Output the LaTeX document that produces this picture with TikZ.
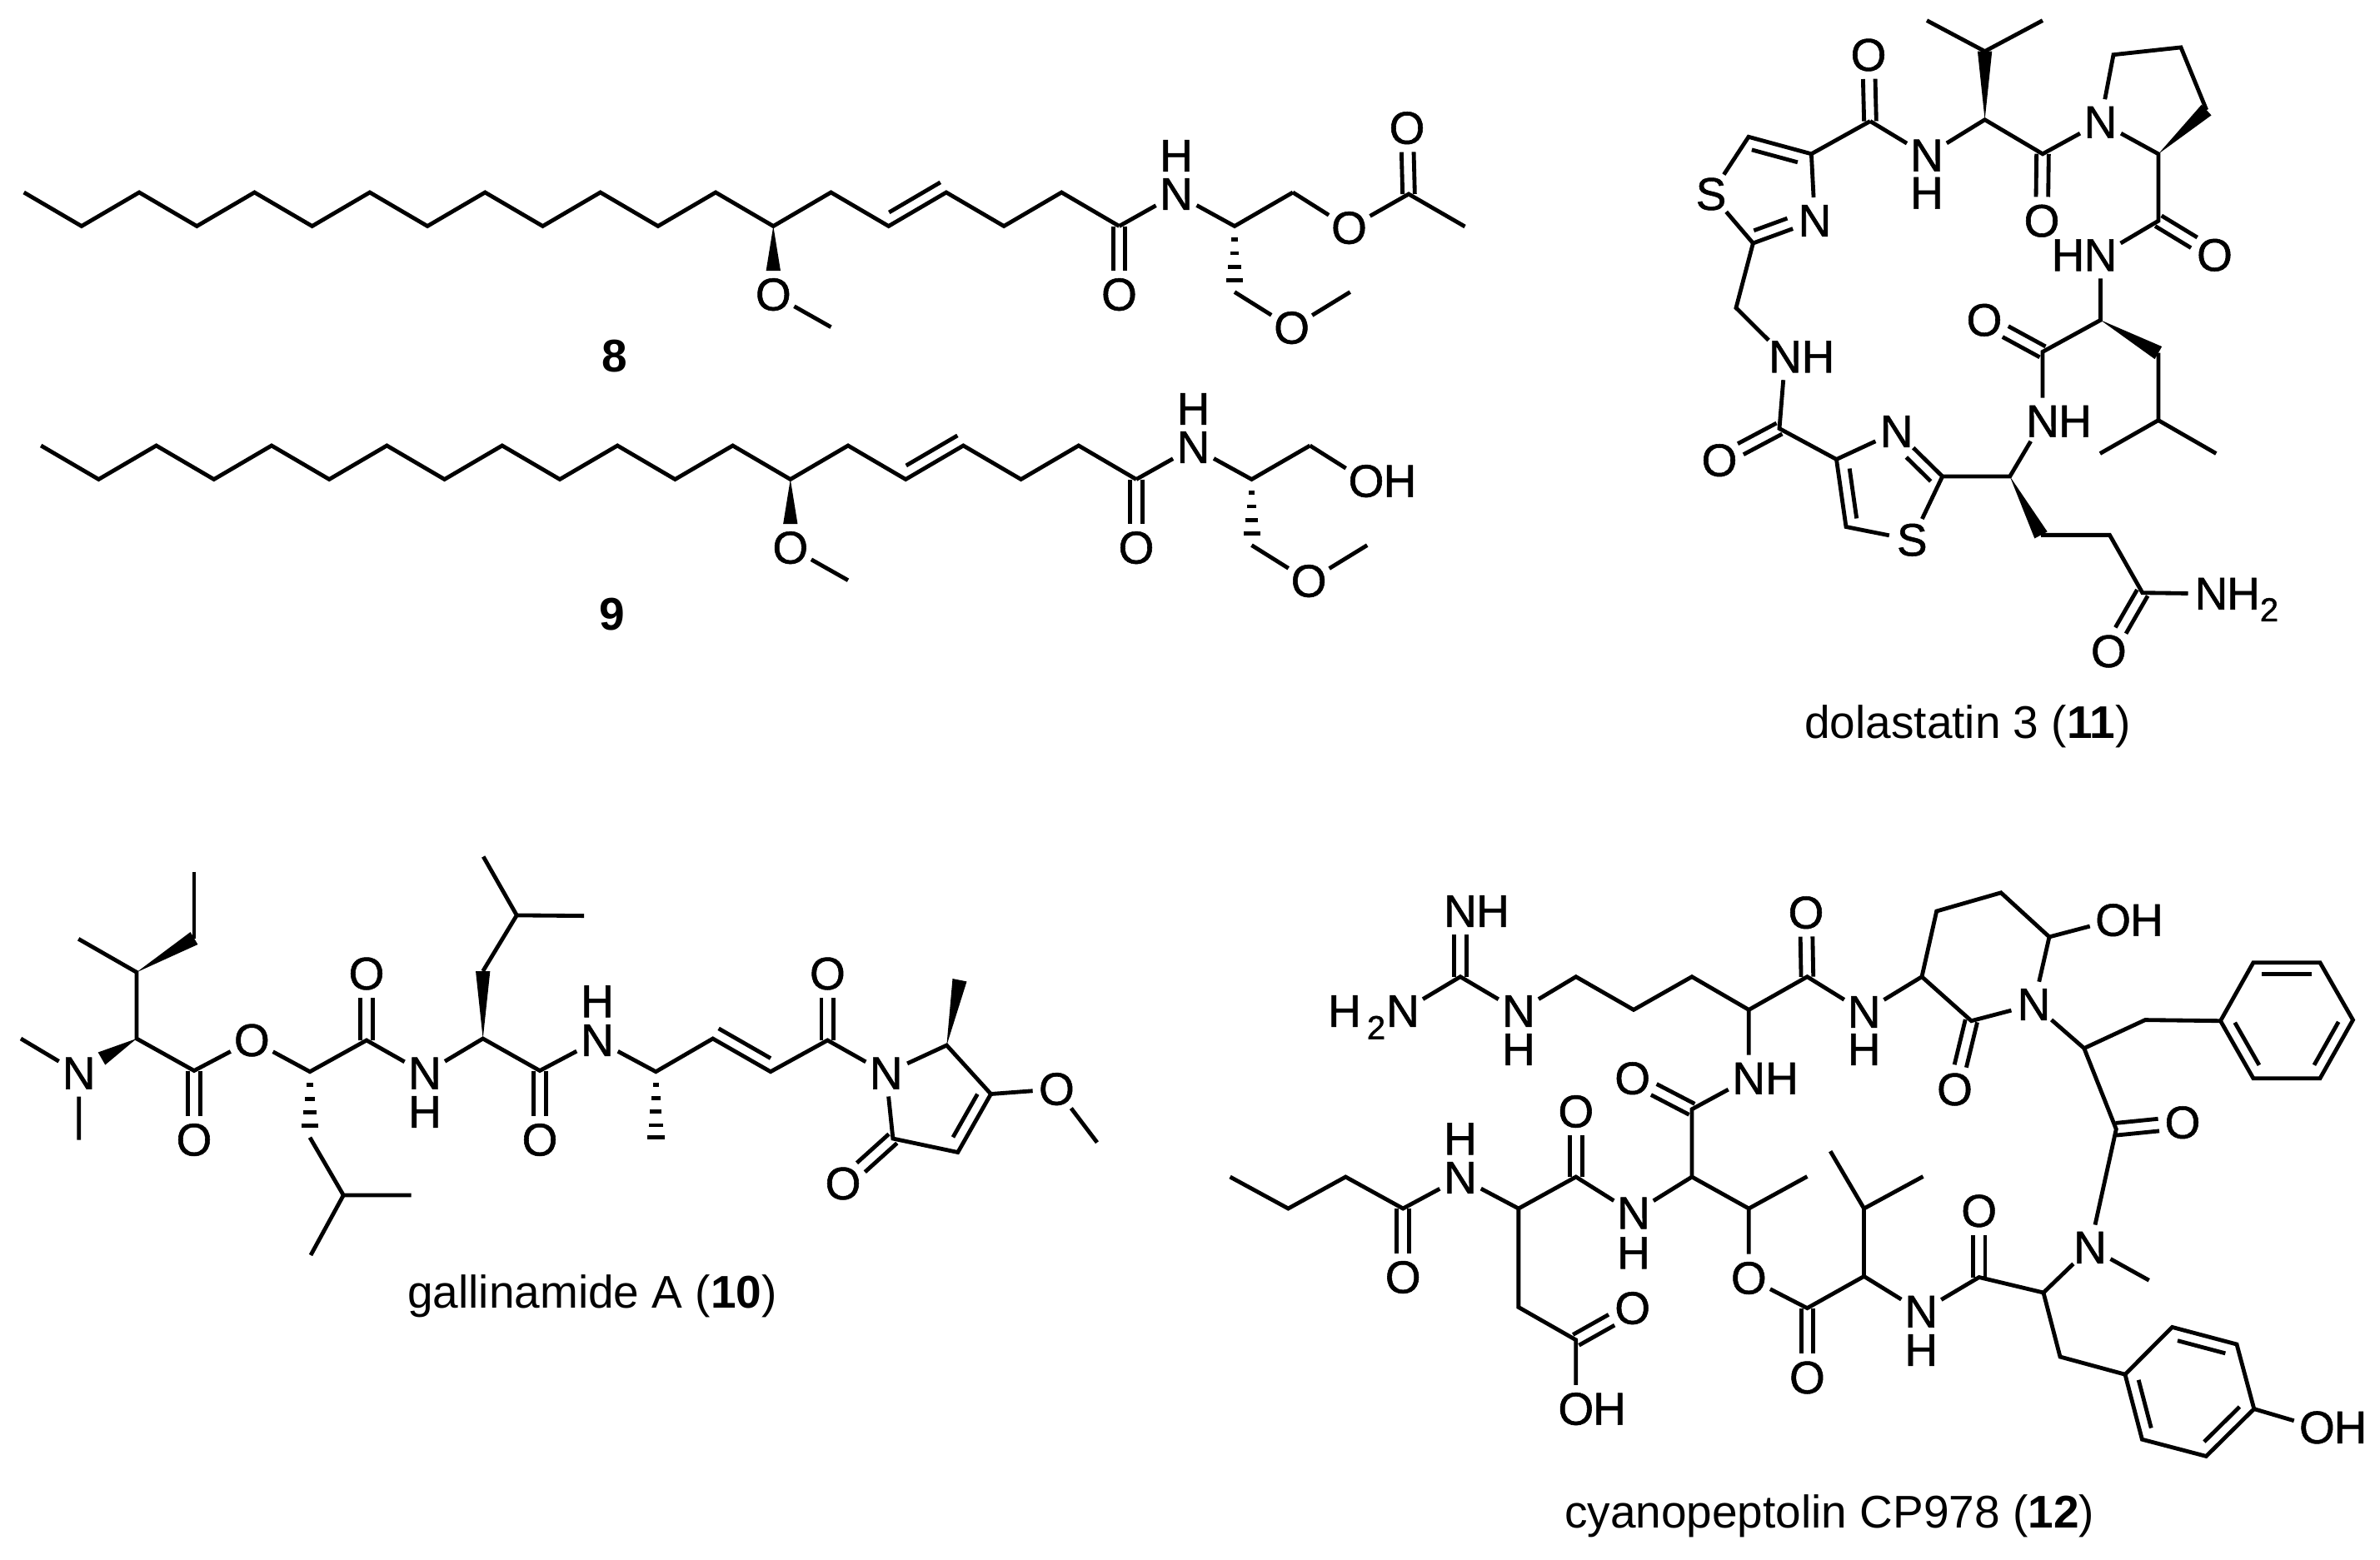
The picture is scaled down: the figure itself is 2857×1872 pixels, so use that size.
\documentclass[tikz,border=0pt]{standalone}
\usepackage{fontspec}
\setmainfont{Liberation Sans}
\newfontfamily\atomfont{Liberation Sans}[FakeBold=1]
\usetikzlibrary{calc}
\tikzset{
  bond/.style={draw=black,line width=1.45pt,line join=miter},
  atom/.style={circle,inner sep=0pt,outer sep=0pt,minimum size=16.8pt,text=black,font=\atomfont\fontsize{16.5}{18}\selectfont},
  subatom/.style={inner sep=0pt,outer sep=0pt,text=black,font=\atomfont\fontsize{12}{13}\selectfont},
  caption/.style={inner sep=0pt,outer sep=0pt,text=black,font=\fontsize{16.5}{18}\selectfont}
}
% centred double bond
\newcommand\cdb[2]{%
  \path (#1) -- (#2) coordinate[pos=0] (dbA) coordinate[pos=1] (dbB);
  \draw[bond] ($(dbA)!2.2pt!90:(dbB)$) -- ($(dbB)!2.2pt!-90:(dbA)$);
  \draw[bond] ($(dbA)!2.2pt!-90:(dbB)$) -- ($(dbB)!2.2pt!90:(dbA)$);}
% inner line of a double bond: on the visual left of a->b, trimmed by fractions
\newcommand\idb[4]{%
  \path (#1) -- (#2) coordinate[pos=0] (dbA) coordinate[pos=1] (dbB);
  \draw[bond] ($($(dbA)!#3!(dbB)$)!4.2pt!90:(dbB)$) -- ($($(dbB)!#4!(dbA)$)!4.2pt!-90:(dbA)$);}
\newcommand\wdg[2]{\fill[black] (#1) -- ($(#2)!2.6pt!90:(#1)$) -- ($(#2)!2.6pt!-90:(#1)$) -- cycle;}
\newcommand\hsh[3]{\foreach \hp/\hw in {#3}{%
  \draw[bond] ($($(#1)!\hp!(#2)$)!\hw pt!90:(#2)$) -- ($($(#1)!\hp!(#2)$)!\hw pt!-90:(#2)$);}}
% shared part of 8 and 9
\newcommand\lipid{%
  \coordinate (c0) at (28.7,231); \coordinate (c1) at (97.9,271.5);
  \coordinate (c2) at (167.1,231); \coordinate (c3) at (236.3,271.5);
  \coordinate (c4) at (305.5,231); \coordinate (c5) at (374.7,271.5);
  \coordinate (c6) at (443.9,231); \coordinate (c7) at (513.1,271.5);
  \coordinate (c8) at (582.3,231); \coordinate (c9) at (651.5,271.5);
  \coordinate (c10) at (720.7,231); \coordinate (c11) at (789.9,271.5);
  \coordinate (c12) at (859.1,231); \coordinate (c13) at (928.3,271.5);
  \coordinate (c14) at (997.5,231); \coordinate (c15) at (1066.7,271.5);
  \coordinate (c16) at (1135.9,231); \coordinate (c17) at (1205.1,271.5);
  \coordinate (c18) at (1274.3,231); \coordinate (c19) at (1343.5,271.5);
  \draw[bond] (c0)--(c1)--(c2)--(c3)--(c4)--(c5)--(c6)--(c7)--(c8)--(c9)--(c10)--(c11)--(c12)--(c13)--(c14)--(c15)--(c16)--(c17)--(c18)--(c19);
  \idb{c15}{c16}{.11}{0}
  \coordinate (wE) at (928.3,325);
  \wdg{c13}{wE}
  \node[atom] (oM) at (928.3,353.6) {O};
  \coordinate (meM) at (997.5,392.7);
  \draw[bond] (oM)--(meM);
  \node[atom] (oA) at (1343.5,353.6) {O};
  \cdb{c19}{oA}
  \node[atom] (nA) at (1412,233) {N};
  \node[atom] (hA) at (1412,187) {H};
  \coordinate (cS) at (1482,271.5);
  \coordinate (cT) at (1552,231);
  \draw[bond] (c19)--(nA)--(cS)--(cT);
  \coordinate (hE) at (1482,350.6);
  \hsh{cS}{hE}{.2/1.1,.41/1.6,.62/2.3,.82/3}
  \node[atom] (oE) at (1550.6,393.6) {O};
  \coordinate (meE) at (1620.7,350.6);
  \draw[bond] (hE)--(oE)--(meE);
}
\begin{document}
\begin{tikzpicture}[x=0.3pt,y=-0.3pt]
\useasboundingbox (0,0) rectangle (2857,1872);
%% 8
\lipid
\node[atom] (o8) at (1619.5,273.6) {O};
\coordinate (ac8) at (1691,233);
\node[atom] (oc8) at (1689,153.7) {O};
\coordinate (me8) at (1758.5,272);
\draw[bond] (cT)--(o8)--(ac8)--(me8);
\cdb{ac8}{oc8}
\node[caption] (lab8) at (738,428) {\textbf{8}};
%% 9
\begin{scope}[shift={(20.5,304)}]
\lipid
\node[atom] (o9) at (1619.5,273.6) {O};
\node[atom] (h9) at (1660,273.6) {H};
\draw[bond] (cT)--(o9);
\end{scope}
\node[caption] (lab9) at (735,737.5) {\textbf{9}};
%% 11 dolastatin 3
\coordinate (dMe1) at (2313,24.6); \coordinate (dMe2) at (2452,24.6);
\coordinate (dCHv) at (2382.6,61.6); \coordinate (dCav) at (2382.6,143.7);
\node[atom] (dNv) at (2313,186.6) {N}; \node[atom] (dHv) at (2313,231.7) {H};
\coordinate (dCO1) at (2245,145.5); \node[atom] (dO1) at (2243,66) {O};
\coordinate (dT4) at (2174.4,184.8); \coordinate (dT5) at (2099,164.3);
\node[atom] (dS1) at (2054,233) {S}; \coordinate (dT2) at (2104.4,292);
\node[atom] (dN1) at (2178.5,265) {N};
\coordinate (dCH2) at (2084,369.6);
\node[atom] (dN2) at (2143,428.3) {N}; \node[atom] (dH2) at (2182.5,428.3) {H};
\coordinate (dCO2) at (2136,514.5); \node[atom] (dO2) at (2064,552.7) {O};
\coordinate (dU4) at (2204.5,551.5); \coordinate (dU5) at (2216,632.5);
\node[atom] (dS2) at (2295.3,648.3) {S}; \coordinate (dU2) at (2331.7,572);
\node[atom] (dN3) at (2276.8,518) {N};
\coordinate (dCa3) at (2412.7,572);
\node[atom] (dN4) at (2452,505.7) {N}; \node[atom] (dH4) at (2491,505.7) {H};
\coordinate (dW) at (2450,642.4); \coordinate (dP1) at (2532.5,642.4);
\coordinate (dP2) at (2571.8,711.7); \node[atom] (dO3) at (2531.3,782) {O};
\node[atom] (dN5) at (2654.5,712.8) {N}; \node[atom] (dH5) at (2693,712.8) {H};
\node[subatom] (dSub) at (2724,732) {2};
\coordinate (dCO4) at (2452,422.4); \node[atom] (dO4) at (2382,384.3) {O};
\coordinate (dCa4) at (2521.5,384.3); \coordinate (dLw) at (2590.9,423.6);
\coordinate (dLi) at (2590.9,504.6); \coordinate (dLm1) at (2520.9,544.5);
\coordinate (dLm2) at (2660.3,544.5);
\node[atom] (dN6) at (2521.5,306.3) {N}; \node[atom] (dH6) at (2482.5,306.3) {H};
\coordinate (dCO5) at (2590.9,265.2); \node[atom] (dO5) at (2658.5,306.3) {O};
\coordinate (dCa5) at (2590.9,184.8); \coordinate (dPw) at (2648.7,132);
\coordinate (dPg) at (2618,56.9); \coordinate (dPd) at (2537,65.7);
\node[atom] (dN7) at (2521.5,146.7) {N};
\coordinate (dCO6) at (2452,184.8); \node[atom] (dO6) at (2451,265.2) {O};
\draw[bond] (dMe1)--(dCHv)--(dMe2);
\wdg{dCav}{dCHv}
\draw[bond] (dCO1)--(dNv)--(dCav)--(dCO6)--(dN7);
\cdb{dCO1}{dO1} \cdb{dCO6}{dO6}
\draw[bond] (dCO1)--(dT4)--(dT5)--(dS1)--(dT2)--(dN1)--(dT4);
\idb{dT4}{dT5}{.17}{.1} \idb{dT2}{dN1}{.12}{.04}
\draw[bond] (dT2)--(dCH2)--(dN2)--(dCO2)--(dU4)--(dN3)--(dU2)--(dS2)--(dU5)--(dU4);
\cdb{dCO2}{dO2}
\idb{dU2}{dN3}{.12}{.04} \idb{dU4}{dU5}{.16}{.1}
\draw[bond] (dU2)--(dCa3)--(dN4)--(dCO4)--(dCa4)--(dN6)--(dCO5)--(dCa5)--(dN7)--(dPd)--(dPg)--(dPw);
\cdb{dCO4}{dO4} \cdb{dCO5}{dO5}
\wdg{dCa4}{dLw} \wdg{dCa5}{dPw} \wdg{dCa3}{dW}
\draw[bond] (dLw)--(dLi)--(dLm1); \draw[bond] (dLi)--(dLm2);
\draw[bond] (dW)--(dP1)--(dP2)--(dN5);
\cdb{dP2}{dO3}
\node[caption] (lab11) at (2362,872.5) {dolastatin 3 (\textbf{11})};
%% 10 gallinamide A
\coordinate (gA1) at (233,1046.7); \coordinate (gA2) at (233,1126.5);
\coordinate (gB) at (164,1167.3); \coordinate (gB1) at (94.2,1127.3);
\coordinate (gC) at (164,1247); \coordinate (gW) at (122,1271);
\node[atom] (gN) at (94.7,1288.6) {N};
\coordinate (gM1) at (25,1247); \coordinate (gM2) at (94.7,1368.5);
\coordinate (gD) at (233,1285.5); \node[atom] (gO1) at (233,1368.5) {O};
\node[atom] (gO2) at (302.3,1249) {O};
\coordinate (gE) at (372,1286.7); \coordinate (gE1) at (372,1365.7);
\coordinate (gE2) at (412.3,1435); \coordinate (gE3) at (493.6,1435); \coordinate (gE4) at (373,1507);
\coordinate (gF) at (440,1249); \node[atom] (gO3) at (440,1169) {O};
\node[atom] (gN2) at (510,1288.6) {N}; \node[atom] (gH2) at (510,1335) {H};
\coordinate (gG) at (579.7,1247); \coordinate (gG1) at (579.7,1166);
\coordinate (gG2) at (620.3,1098.9); \coordinate (gG3) at (580.2,1028.5); \coordinate (gG4) at (701.2,1099.6);
\coordinate (gI) at (648,1285.5); \node[atom] (gO4) at (648,1368.5) {O};
\node[atom] (gN3) at (717,1249) {N}; \node[atom] (gH3) at (717,1202.4) {H};
\coordinate (gJ) at (787.3,1286.7); \coordinate (gJ1) at (787.3,1367);
\coordinate (gK) at (855.7,1247); \coordinate (gL) at (925,1286.7);
\coordinate (gM) at (993.4,1249); \node[atom] (gO5) at (993.4,1169) {O};
\node[atom] (gN4) at (1063.7,1288.6) {N};
\coordinate (gR1) at (1136.4,1255); \coordinate (gR1w) at (1152,1176.7);
\coordinate (gR2) at (1189.5,1313.5); \node[atom] (gO6) at (1268.4,1307.6) {O};
\coordinate (gMe) at (1317,1371.7);
\coordinate (gR3) at (1149.8,1383.5); \coordinate (gR4) at (1071.9,1367);
\node[atom] (gO7) at (1012,1421) {O};
\draw[bond] (gA1)--(gA2);
\wdg{gB}{gA2}
\draw[bond] (gB1)--(gB)--(gC)--(gD)--(gO2)--(gE)--(gF)--(gN2)--(gG)--(gI)--(gN3)--(gJ)--(gK)--(gL)--(gM)--(gN4)--(gR1)--(gR2)--(gR3)--(gR4)--(gN4);
\wdg{gC}{gW}
\draw[bond] (gM1)--(gN)--(gM2);
\cdb{gD}{gO1} \cdb{gF}{gO3} \cdb{gI}{gO4} \cdb{gM}{gO5} \cdb{gR4}{gO7}
\hsh{gE}{gE1}{.2/1.3,.41/1.9,.62/2.5,.82/3.1}
\draw[bond] (gE1)--(gE2)--(gE3); \draw[bond] (gE2)--(gE4);
\wdg{gG}{gG1}
\draw[bond] (gG1)--(gG2)--(gG3); \draw[bond] (gG2)--(gG4);
\hsh{gJ}{gJ1}{.2/1.1,.4/1.6,.6/2.1,.8/2.6,.98/3.1}
\idb{gK}{gL}{0}{.1}
\wdg{gR1}{gR1w}
\idb{gR3}{gR2}{.16}{.1}
\draw[bond] (gR2)--(gO6)--(gMe);
\node[caption] (lab10) at (711,1556) {gallinamide A (\textbf{10})};
%% 12 cyanopeptolin
\node[atom] (cN1) at (1753,1094) {N}; \node[atom] (cH1) at (1792,1094) {H};
\coordinate (cG) at (1753,1172.7);
\node[atom] (cHb) at (1614,1214) {H}; \node[subatom] (cTwo) at (1652,1233.7) {2}; \node[atom] (cNb) at (1684,1214) {N};
\node[atom] (cN2) at (1822.9,1214) {N}; \node[atom] (cH2) at (1822.9,1260) {H};
\coordinate (cA1) at (1891.8,1172.7); \coordinate (cA2) at (1961,1212.4);
\coordinate (cA3) at (2031,1172.7); \coordinate (cA4) at (2099.3,1212.4);
\node[atom] (cN3) at (2099.3,1294.7) {N}; \node[atom] (cH3) at (2139,1294.7) {H};
\coordinate (cB) at (2031,1331.8); \node[atom] (cOb) at (1959.7,1294.7) {O};
\coordinate (cC) at (2031,1413);
\node[atom] (cN4) at (1961,1456.5) {N}; \node[atom] (cH4) at (1961,1504.3) {H};
\coordinate (cD) at (1891.8,1413); \node[atom] (cOd) at (1891.8,1334.5) {O};
\coordinate (cE) at (1822.9,1451);
\node[atom] (cN5) at (1753,1414) {N}; \node[atom] (cH5) at (1753,1367.4) {H};
\coordinate (cF) at (1684.2,1451); \node[atom] (cOf) at (1684.2,1533.5) {O};
\coordinate (cF1) at (1615.3,1413); \coordinate (cF2) at (1546.4,1451); \coordinate (cF3) at (1476.6,1413);
\coordinate (cI) at (1822.9,1569.5); \coordinate (cJ) at (1891.8,1608.8);
\node[atom] (cOj) at (1959.7,1570.6) {O};
\node[atom] (cOh) at (1891.8,1691.6) {O}; \node[atom] (cHh) at (1932,1691.6) {H};
\coordinate (cK) at (2099.3,1451); \coordinate (cKm) at (2169.4,1412.5);
\node[atom] (cOk) at (2099.3,1534.5) {O};
\coordinate (cL) at (2169.4,1570.6); \node[atom] (cOl) at (2169.4,1654) {O};
\coordinate (cM) at (2237.6,1532.4); \coordinate (cP) at (2237.6,1451);
\coordinate (cP1) at (2197.2,1382.2); \coordinate (cP2) at (2308.5,1412.5);
\node[atom] (cN6) at (2306.2,1574.8) {N}; \node[atom] (cH6) at (2306.2,1621) {H};
\coordinate (cQ) at (2375.7,1533.5); \node[atom] (cOq) at (2375.7,1453.9) {O};
\coordinate (cR) at (2453,1552);
\node[atom] (cN7) at (2509,1497.9) {N}; \coordinate (cRm) at (2579.7,1537.2);
\coordinate (cS) at (2473,1629);
\coordinate (cY1) at (2551,1650.2); \coordinate (cY2) at (2607.5,1593.4);
\coordinate (cY3) at (2685,1614); \coordinate (cY4) at (2705.8,1691.6);
\coordinate (cY5) at (2648.3,1748.4); \coordinate (cY6) at (2571.4,1728.2);
\node[atom] (cOy) at (2781.4,1713.9) {O}; \node[atom] (cHy) at (2821.5,1713.9) {H};
\coordinate (cT) at (2540.3,1355.7); \node[atom] (cOt) at (2620,1347.7) {O};
\coordinate (cU) at (2501.8,1258.6); \coordinate (cV) at (2575,1224.6);
\coordinate (cX1) at (2665.5,1225.7); \coordinate (cX2) at (2704.9,1155.7);
\coordinate (cX3) at (2785,1155.7); \coordinate (cX4) at (2824.5,1224.6);
\coordinate (cX5) at (2785,1294.7); \coordinate (cX6) at (2704.9,1294.7);
\node[atom] (cNr) at (2441.5,1206) {N};
\coordinate (cW) at (2366.4,1225.7); \node[atom] (cOw) at (2346.5,1308) {O};
\coordinate (cZ1) at (2307,1172.7); \coordinate (cZ2) at (2324.7,1094);
\coordinate (cZ3) at (2402,1071.8); \coordinate (cZ4) at (2460,1124.9);
\node[atom] (cOz) at (2536.6,1104.7) {O}; \node[atom] (cHz) at (2577,1104.7) {H};
\node[atom] (cN8) at (2237.6,1215) {N}; \node[atom] (cH8) at (2237.6,1260) {H};
\coordinate (cAa) at (2169.4,1172.7); \node[atom] (cOa) at (2168,1095.7) {O};
\cdb{cG}{cN1}
\draw[bond] (cNb)--(cG)--(cN2)--(cA1)--(cA2)--(cA3)--(cA4)--(cAa)--(cN8)--(cZ1)--(cZ2)--(cZ3)--(cZ4)--(cNr)--(cW)--(cZ1);
\draw[bond] (cZ4)--(cOz);
\cdb{cAa}{cOa} \cdb{cW}{cOw}
\draw[bond] (cA4)--(cN3)--(cB)--(cC)--(cN4)--(cD)--(cE)--(cN5)--(cF)--(cF1)--(cF2)--(cF3);
\cdb{cB}{cOb} \cdb{cD}{cOd} \cdb{cF}{cOf}
\draw[bond] (cE)--(cI)--(cJ)--(cOh);
\cdb{cJ}{cOj}
\draw[bond] (cC)--(cK)--(cKm); \draw[bond] (cK)--(cOk)--(cL)--(cM)--(cN6)--(cQ)--(cR)--(cN7)--(cT)--(cU)--(cNr);
\cdb{cL}{cOl} \cdb{cQ}{cOq} \cdb{cT}{cOt}
\draw[bond] (cP1)--(cP)--(cP2); \draw[bond] (cP)--(cM);
\draw[bond] (cN7)--(cRm);
\draw[bond] (cR)--(cS)--(cY1);
\draw[bond] (cY1)--(cY2)--(cY3)--(cY4)--(cY5)--(cY6)--cycle;
\draw[bond] (cY4)--(cOy);
\idb{cY1}{cY6}{.13}{.13} \idb{cY3}{cY2}{.13}{.13} \idb{cY5}{cY4}{.13}{.13}
\draw[bond] (cU)--(cV)--(cX1);
\draw[bond] (cX1)--(cX2)--(cX3)--(cX4)--(cX5)--(cX6)--cycle;
\idb{cX3}{cX2}{.13}{.13} \idb{cX1}{cX6}{.13}{.13} \idb{cX5}{cX4}{.13}{.13}
\node[caption] (lab12) at (2196,1820) {cyanopeptolin CP978 (\textbf{12})};
\end{tikzpicture}
\end{document}
